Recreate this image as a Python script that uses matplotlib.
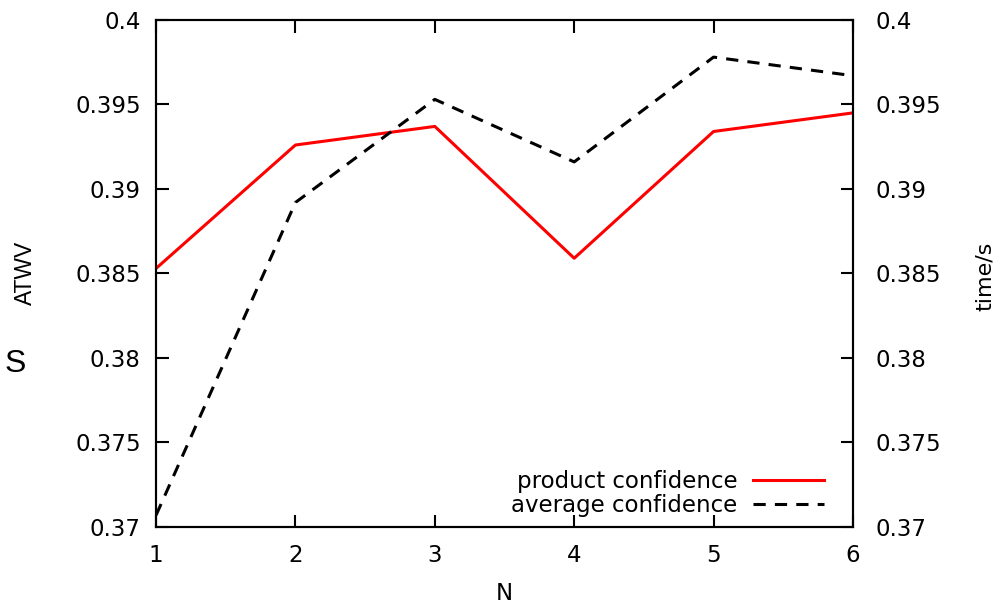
import matplotlib
matplotlib.use('Agg')
import matplotlib.pyplot as plt

N = [1, 2, 3, 4, 5, 6]
product_conf = [0.3853, 0.3926, 0.3937, 0.3859, 0.3934, 0.3945]
average_conf = [0.3707, 0.3892, 0.3953, 0.3916, 0.3978, 0.3967]
yticks = [0.37, 0.375, 0.38, 0.385, 0.39, 0.395, 0.4]
ytick_labels = ['0.37', '0.375', '0.38', '0.385', '0.39', '0.395', '0.4']

fig = plt.figure(figsize=(10.07, 6.04), dpi=100)
ax = fig.add_axes([0.155, 0.1275, 0.692, 0.8395])

ax.plot(N, product_conf, color='#ff0000', lw=2.2, label='product confidence')
ax.plot(N, average_conf, color='black', lw=2.2, dashes=(4, 3), label='average confidence')

ax.set_xlim(1, 6)
ax.set_ylim(0.37, 0.4)
ax.set_xticks(N)
ax.set_yticks(yticks)
ax.set_yticklabels(ytick_labels)
for s in ax.spines.values():
    s.set_linewidth(1.5)
ax.tick_params(direction='in', length=9, width=1.5, top=True, right=True,
               labelsize=16.5)
ax.tick_params(axis='x', pad=12)
ax.tick_params(axis='y', pad=11)

# right-hand labels, same scale
ax2 = ax.twinx()
ax2.set_ylim(ax.get_ylim())
ax2.set_yticks(yticks)
ax2.set_yticklabels(ytick_labels)
ax2.tick_params(direction='in', length=9, width=1.5, labelsize=16.5, pad=16)
for s in ax2.spines.values():
    s.set_linewidth(1.5)

ax.legend(loc='lower right', bbox_to_anchor=(0.958, 0.02), frameon=False,
          markerfirst=False, fontsize=16.5, handlelength=3.1,
          handletextpad=0.65, labelspacing=0.05, borderpad=0, borderaxespad=0)

fig.text(0.025, 0.549, 'ATWV', rotation=90, ha='center', va='center',
         fontsize=16.5, family='Liberation Sans')
fig.text(0.015, 0.398, 'S', ha='center', va='center', fontsize=23,
         family='Liberation Sans')
fig.text(0.978, 0.543, 'time/s', rotation=90, ha='center', va='center',
         fontsize=16)
fig.text(0.501, 0.018, 'N', ha='center', va='center', fontsize=16.5)

fig.savefig('out.png', dpi=100)
